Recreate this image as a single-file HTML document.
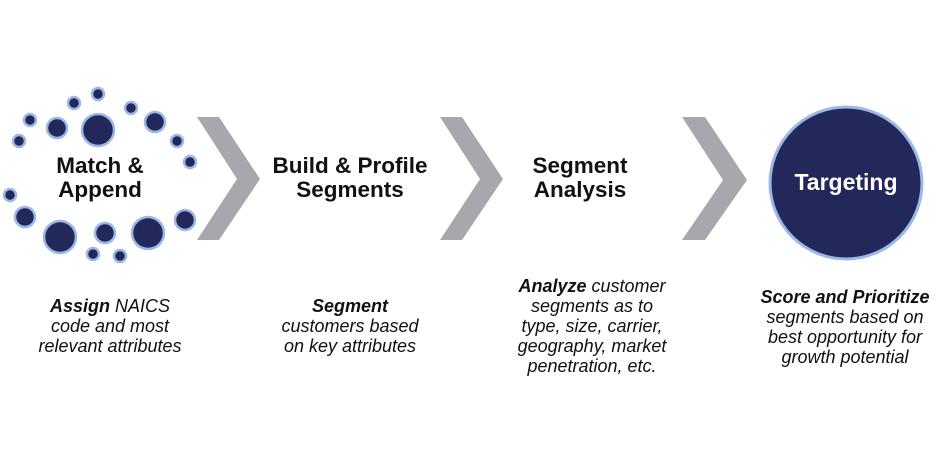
<!DOCTYPE html>
<html><head><style>
body{margin:0;width:951px;height:470px;background:#fff;overflow:hidden;font-family:"Liberation Sans",Arial,sans-serif;}
.t{position:absolute;text-align:center;font-weight:bold;font-size:22.5px;line-height:24px;color:#111;}
.d{position:absolute;text-align:center;font-style:italic;font-size:18px;line-height:20px;color:#111;}
</style></head><body>
<svg width="951" height="470" style="position:absolute;left:0;top:0">
<g fill="#23285a" stroke="#9db8e8" stroke-width="2.5">
<circle cx="98" cy="94" r="6"/><circle cx="74" cy="103" r="6"/><circle cx="30" cy="120" r="6"/><circle cx="19" cy="141" r="6"/>
<circle cx="57" cy="128" r="10"/><circle cx="98" cy="130" r="16"/><circle cx="131" cy="108" r="6"/><circle cx="155" cy="122" r="10"/>
<circle cx="177" cy="141" r="6"/><circle cx="190" cy="162" r="6"/><circle cx="10" cy="195" r="6"/><circle cx="25" cy="217" r="10"/>
<circle cx="60" cy="237" r="16"/><circle cx="105" cy="233" r="10"/><circle cx="93" cy="254" r="6"/><circle cx="120" cy="256" r="6"/>
<circle cx="148" cy="233" r="16"/><circle cx="185" cy="220" r="10"/>
</g>
<g fill="#a7a8ad">
<polygon points="197,117 219,117 260,179 219,240 197,240 237,179"/>
<polygon points="440,117 462,117 503,179 462,240 440,240 480,179"/>
<polygon points="682,117 705,117 747,180 705,240 682,240 723,180"/>
</g>
<circle cx="846" cy="183" r="76" fill="#23285a" stroke="#9db8e8" stroke-width="3"/>
</svg>
<div class="t" style="left:30px;top:154px;width:140px">Match &amp;<br>Append</div>
<div class="t" style="left:250px;top:154px;width:200px">Build &amp; Profile<br>Segments</div>
<div class="t" style="left:500px;top:154px;width:160px">Segment<br>Analysis</div>
<div class="t" style="left:756px;top:170px;width:180px;color:#fff;font-size:23px">Targeting</div>
<div class="d" style="left:0px;top:296px;width:220px"><b>Assign</b> NAICS<br>code and most<br>relevant attributes</div>
<div class="d" style="left:240px;top:296px;width:220px"><b>Segment</b><br>customers based<br>on key attributes</div>
<div class="d" style="left:482px;top:276px;width:220px"><b>Analyze</b> customer<br>segments as to<br>type, size, carrier,<br>geography, market<br>penetration, etc.</div>
<div class="d" style="left:735px;top:287px;width:220px"><b>Score and Prioritize</b><br>segments based on<br>best opportunity for<br>growth potential</div>
</body></html>
